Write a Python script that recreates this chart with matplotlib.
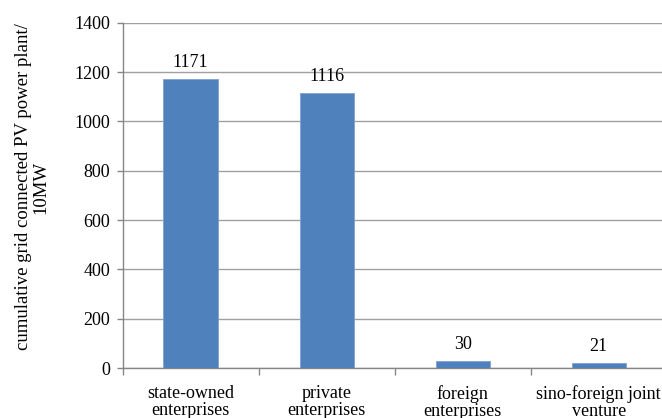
import matplotlib
matplotlib.use("Agg")
import matplotlib.pyplot as plt
import numpy as np

categories = ["state-owned\nenterprises", "private\nenterprises", "foreign\nenterprises", "sino-foreign joint\nventure"]
values = [1171, 1116, 30, 21]
yticks = [0, 200, 400, 600, 800, 1000, 1200, 1400]

plt.rcParams['font.family'] = ['Liberation Serif', 'DejaVu Serif']

fig = plt.figure(figsize=(6.62, 4.18), dpi=100)
ax = fig.add_axes([0.1853, 0.1196, 0.822, 0.826])

x = np.arange(len(categories))
ax.bar(x, values, width=0.4, color='#4F81BD', edgecolor='#7FA2D0', linewidth=0.6, zorder=3)
for xi, v in zip(x, values):
    ax.annotate(str(v), (xi, v), xytext=(0, 8.5), textcoords='offset points',
                ha='center', va='baseline', fontsize=13, color='black')

ax.set_xlim(-0.5, len(categories) - 0.5)
ax.set_ylim(0, 1400)
ax.set_yticks(yticks)
ax.set_yticklabels([str(t) for t in yticks], fontsize=13)
ax.yaxis.grid(True, color='#A0A0A0', linewidth=1.0, zorder=0)
ax.set_axisbelow(True)

ax.set_xticks(x)
ax.set_xticklabels(categories, fontsize=13, linespacing=1.0)
ax.set_xticks(np.arange(-0.5, len(categories)), minor=True)
ax.tick_params(axis='x', which='major', length=0, pad=12.5)
ax.tick_params(axis='x', which='minor', length=5, color='#868686', width=1)
ax.tick_params(axis='y', length=4, color='#868686', width=1, pad=5)

for s in ['top', 'right']:
    ax.spines[s].set_visible(False)
for s in ['left', 'bottom']:
    ax.spines[s].set_color('#868686')
    ax.spines[s].set_linewidth(1)

fig.text(32 / 662, 1 - 187 / 418, "cumulative grid connected PV power plant/\n10MW",
         rotation=90, ha='center', va='center', fontsize=13.5, linespacing=1.05)

fig.savefig("out.png", dpi=100)
